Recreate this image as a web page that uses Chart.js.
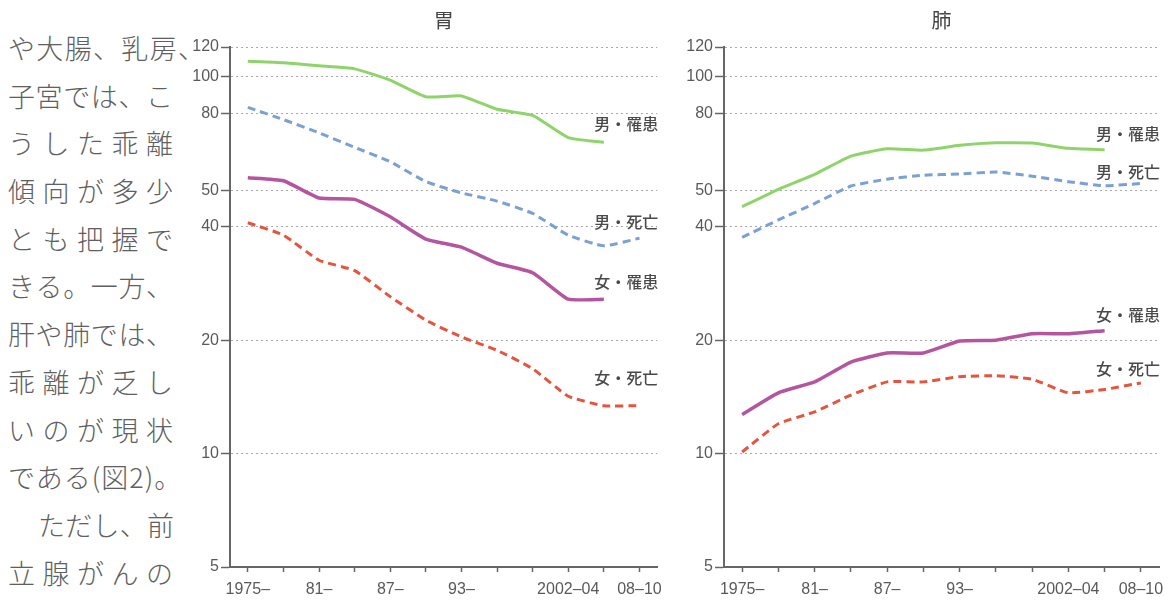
<!DOCTYPE html>
<html lang="ja">
<head>
<meta charset="utf-8">
<script src="https://cdn.jsdelivr.net/npm/chart.js@4/dist/chart.umd.min.js"></script>
<style>
body{margin:0;width:1176px;height:606px;background:#fff;position:relative;overflow:hidden;}
#text{position:absolute;left:8px;top:24px;color:#606060;font-family:"Noto Sans CJK JP",sans-serif;font-weight:300;font-size:27px;line-height:47.7px;}
#text .ln{display:flex;justify-content:space-between;width:165px;height:47.7px;white-space:pre;}
.box{position:absolute;top:0;}
</style>
</head>
<body>
<div id="text"></div>
<div class="box" style="left:190px"><canvas id="stomach" width="480" height="606"></canvas></div>
<div class="box" style="left:684px"><canvas id="lung" width="492" height="606"></canvas></div>
<script>
// 本文（左の段組み）
var textLines = ['や大腸、乳房、','子宮では、こ','うした乖離','傾向が多少','とも把握で','きる。一方、','肝や肺では、','乖離が乏し','いのが現状','である(図2)。','ただし、前','立腺がんの'];

// 3年ごとの期間
var periods = ['1975-77','78-80','81-83','84-86','87-89','90-92','93-95','96-98','99-01','2002-04','05-07','08-10'];
var periodTicks = ['1975–','','81–','','87–','','93–','','','2002–04','','08–10'];
var yTicks = [5, 10, 20, 40, 50, 80, 100, 120];
var seriesNames = ['男・罹患', '男・死亡', '女・罹患', '女・死亡'];

// 胃
var stomachMaleInc = [110, 109, 107, 105, 98, 88.5, 89, 82, 79, 69, 67, null];
var stomachMaleDeath = [83, 77, 71, 65, 59.5, 52.7, 49.2, 46.8, 43.4, 38, 35.6, 37.3];
var stomachFemaleInc = [54, 53, 47.7, 47.3, 42.5, 37.1, 35.3, 32, 30.2, 25.7, 25.7, null];
var stomachFemaleDeath = [41, 38, 32.6, 30.6, 26.1, 22.6, 20.4, 18.8, 16.8, 14.2, 13.4, 13.4];

// 肺
var lungMaleInc = [45.2, 50.3, 55.1, 61.6, 64.4, 63.9, 65.8, 66.8, 66.7, 64.6, 64, null];
var lungMaleDeath = [37.5, 41.7, 46.1, 51.3, 53.5, 54.8, 55.2, 55.9, 54.5, 52.7, 51.4, 52.1];
var lungFemaleInc = [12.7, 14.5, 15.5, 17.5, 18.5, 18.5, 19.9, 20, 20.8, 20.8, 21.2, null];
var lungFemaleDeath = [10.1, 12.0, 12.9, 14.3, 15.5, 15.5, 16.0, 16.1, 15.75, 14.5, 14.8, 15.4];

// text column
var box = document.getElementById('text');
textLines.forEach(function (t, i) {
    var d = document.createElement('div');
    d.className = 'ln';
    if (i == 0) d.style.width = '197px';
    if (i == 9) { d.style.display = 'block'; d.style.width = '190px'; d.style.letterSpacing = '1px'; }
    if (i == 10) { d.style.marginLeft = '30px'; d.style.width = '136px'; }
    if (i == 9) {
        d.textContent = t;
    } else {
        Array.from(t).forEach(function (c) {
            var s = document.createElement('span');
            s.textContent = c;
            d.appendChild(s);
        });
    }
    box.appendChild(d);
});

Chart.defaults.font.family = '"Liberation Sans", Arial, sans-serif';
Chart.defaults.color = '#5a5a5a';

var titlePlugin = {
    id: 'panelTitle',
    afterDraw: function (chart, args, opts) {
        var ctx = chart.ctx, a = chart.chartArea;
        ctx.save();
        ctx.font = '20px "Noto Sans CJK JP"';
        ctx.fillStyle = '#444';
        ctx.textAlign = 'center';
        ctx.textBaseline = 'middle';
        ctx.fillText(opts.text, (a.left + a.right) / 2, 20);
        ctx.restore();
    }
};

var seriesLabelPlugin = {
    id: 'seriesLabels',
    afterDatasetsDraw: function (chart, args, opts) {
        var ctx = chart.ctx;
        ctx.save();
        ctx.font = '500 16px "Noto Sans CJK JP"';
        ctx.fillStyle = '#4a4a4a';
        ctx.textAlign = 'right';
        ctx.textBaseline = 'middle';
        chart.data.datasets.forEach(function (ds, i) {
            var meta = chart.getDatasetMeta(i);
            var last = null;
            meta.data.forEach(function (p, j) { if (ds.data[j] != null) last = p; });
            ctx.fillText(ds.label, chart.chartArea.right + 1, last.y + opts.dy[i]);
        });
        ctx.restore();
    }
};

function makeChart(id, title, series, padRight, dy) {
    var styles = [
        { borderColor: '#8fd46b', borderWidth: 3, borderDash: [] },
        { borderColor: '#7ba0d4', borderWidth: 3, borderDash: [8, 5] },
        { borderColor: '#b5559f', borderWidth: 3.5, borderDash: [] },
        { borderColor: '#e4553f', borderWidth: 3, borderDash: [8, 5] }
    ];
    var datasets = series.map(function (d, i) {
        return {
            label: seriesNames[i],
            data: d,
            borderColor: styles[i].borderColor,
            borderWidth: styles[i].borderWidth,
            borderDash: styles[i].borderDash,
            pointRadius: 0,
            tension: 0.15,
            fill: false
        };
    });
    return new Chart(document.getElementById(id).getContext('2d'), {
        type: 'line',
        data: { labels: periods, datasets: datasets },
        plugins: [titlePlugin, seriesLabelPlugin],
        options: {
            responsive: false,
            animation: false,
            layout: { padding: { top: 47, right: padRight, bottom: 0, left: 0 } },
            plugins: {
                legend: { display: false },
                tooltip: { enabled: false },
                panelTitle: { text: title },
                seriesLabels: { dy: dy }
            },
            scales: {
                x: {
                    offset: true,
                    grid: { drawOnChartArea: false, tickLength: 5, tickColor: '#666', tickWidth: 1.5 },
                    border: { color: '#666', width: 2 },
                    ticks: {
                        autoSkip: false, maxRotation: 0, padding: 8,
                        font: { size: 16 },
                        callback: function (v, i) { return periodTicks[i]; }
                    },
                    afterFit: function (s) { s.height = 39; }
                },
                y: {
                    type: 'logarithmic',
                    min: 5,
                    max: 120,
                    grid: { color: '#a8a8a8', lineWidth: 1, tickLength: 9, tickColor: '#666', tickWidth: 1.5, tickBorderDash: [] },
                    border: { color: '#666', width: 2, dash: [2, 3] },
                    ticks: {
                        padding: 2, font: { size: 16 },
                        callback: function (v) { return String(v); }
                    },
                    afterBuildTicks: function (s) {
                        s.ticks = yTicks.map(function (v) { return { value: v }; });
                    },
                    afterFit: function (s) { s.width = 40; }
                }
            }
        }
    });
}

makeChart('stomach', '胃', [stomachMaleInc, stomachMaleDeath, stomachFemaleInc, stomachFemaleDeath], 7, [-18, -16, -17, -28]);
makeChart('lung', '肺', [lungMaleInc, lungMaleDeath, lungFemaleInc, lungFemaleDeath], 17, [-16, -12, -16, -14]);
</script>
</body>
</html>
